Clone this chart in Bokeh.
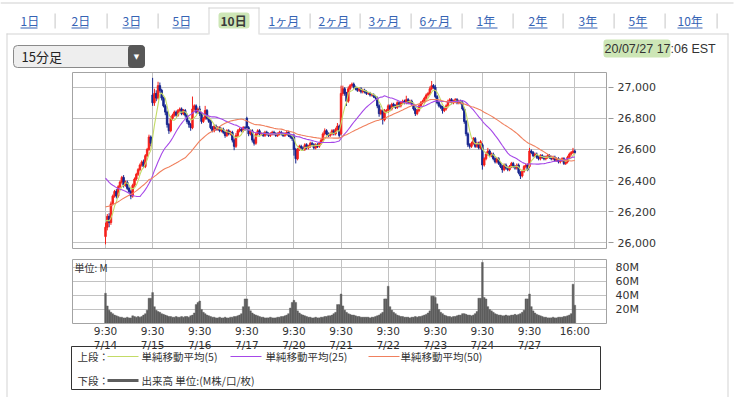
import numpy as np
from bokeh.plotting import figure
from bokeh.models import (Range1d, LinearAxis, FixedTicker, NumeralTickFormatter,
                          PrintfTickFormatter, Label, BoxAnnotation, Grid, ColumnDataSource)
from bokeh.embed import file_html
from bokeh.resources import INLINE

# ---------------- data ----------------
dates = ["7/14", "7/15", "7/16", "7/17", "7/20", "7/21", "7/22", "7/23", "7/24", "7/27"]
session_open_time = "9:30"
session_close_time = "16:00"

day_open = [26040, 26950, 26860, 26800, 26680, 26700, 26850, 27000, 26630, 26490]

close_0714 = [26100, 26170, 26130, 26250, 26300, 26330, 26300, 26360, 26390, 26420, 26370, 26390, 26350,
              26330, 26300, 26370, 26410, 26440, 26470, 26500, 26520, 26490, 26560, 26600, 26680, 26640]
close_0715 = [26900, 26960, 26930, 27010, 26980, 26930, 26880, 26840, 26760, 26720, 26800, 26820, 26840,
              26820, 26850, 26860, 26830, 26850, 26820, 26780, 26760, 26740, 26860, 26880, 26840, 26860]
close_0716 = [26830, 26780, 26800, 26850, 26800, 26780, 26740, 26720, 26750, 26730, 26740, 26720, 26730,
              26710, 26690, 26720, 26700, 26710, 26660, 26620, 26690, 26720, 26730, 26720, 26740, 26730]
close_0717 = [26740, 26700, 26720, 26660, 26640, 26700, 26720, 26700, 26700, 26690, 26710, 26700, 26690,
              26700, 26710, 26700, 26690, 26700, 26710, 26700, 26690, 26700, 26710, 26690, 26680, 26670]
close_0720 = [26600, 26540, 26600, 26620, 26610, 26600, 26630, 26610, 26620, 26640, 26630, 26610, 26630,
              26620, 26640, 26660, 26700, 26720, 26700, 26690, 26700, 26720, 26700, 26730, 26750, 26690]
close_0721 = [26960, 26990, 26960, 26910, 26990, 27010, 27020, 27000, 26990, 26980, 26990, 26970, 26980,
              26970, 26960, 26960, 26950, 26950, 26940, 26930, 26880, 26830, 26850, 26790, 26850, 26850]
close_0722 = [26880, 26860, 26890, 26880, 26870, 26900, 26880, 26900, 26910, 26900, 26920, 26900, 26910,
              26890, 26860, 26830, 26850, 26880, 26900, 26910, 26930, 26950, 26960, 26990, 27010, 27000]
close_0723 = [26940, 26900, 26880, 26870, 26850, 26860, 26880, 26910, 26920, 26900, 26910, 26920, 26900,
              26910, 26900, 26860, 26780, 26700, 26630, 26620, 26640, 26670, 26620, 26640, 26610, 26650]
close_0724 = [26500, 26540, 26570, 26590, 26560, 26570, 26540, 26520, 26540, 26510, 26490, 26470, 26500,
              26480, 26470, 26490, 26510, 26490, 26480, 26500, 26450, 26430, 26460, 26490, 26500, 26470]
close_0727 = [26590, 26580, 26560, 26570, 26550, 26540, 26560, 26550, 26540, 26550, 26560, 26550, 26540,
              26550, 26530, 26540, 26520, 26530, 26540, 26510, 26520, 26550, 26570, 26580, 26590, 26580]

# upper / lower wick beyond the candle body (points)
hi_0714 = [30, 15, 20, 15, 10, 10, 15, 10, 10, 10, 15, 10, 10, 10, 10, 10, 10, 10, 10, 10, 10, 15, 10, 10, 15, 10]
lo_0714 = [50, 20, 30, 15, 10, 10, 15, 10, 10, 10, 15, 10, 10, 10, 20, 10, 10, 10, 10, 10, 10, 10, 10, 10, 10, 20]
hi_0715 = [110, 30, 20, 25, 20, 10, 10, 10, 10, 10, 15, 10, 10, 10, 10, 10, 10, 10, 10, 10, 10, 10, 80, 10, 10, 10]
lo_0715 = [20, 20, 20, 10, 15, 15, 10, 20, 20, 20, 10, 10, 10, 10, 10, 10, 10, 10, 15, 15, 20, 20, 10, 10, 10, 10]
hi_0716 = [20, 10, 10, 30, 10, 10, 10, 10, 10, 10, 10, 10, 10, 10, 10, 10, 10, 10, 10, 10, 15, 10, 10, 10, 10, 10]
lo_0716 = [15, 15, 10, 10, 10, 10, 10, 10, 10, 10, 10, 10, 10, 10, 15, 10, 10, 10, 15, 25, 10, 10, 10, 10, 10, 10]
hi_0717 = [10, 10, 10, 10, 10, 10, 10, 10, 10, 10, 10, 10, 10, 10, 10, 10, 10, 10, 10, 10, 10, 10, 10, 10, 10, 10]
lo_0717 = [10, 15, 10, 15, 15, 10, 10, 10, 10, 10, 10, 10, 10, 10, 10, 10, 10, 10, 10, 10, 10, 10, 10, 10, 10, 15]
hi_0720 = [20, 10, 10, 10, 10, 10, 10, 10, 10, 10, 10, 10, 10, 10, 10, 10, 10, 15, 10, 10, 10, 10, 10, 10, 20, 10]
lo_0720 = [40, 30, 10, 10, 10, 10, 10, 10, 10, 10, 10, 10, 10, 10, 10, 10, 10, 10, 10, 10, 10, 10, 10, 10, 10, 15]
hi_0721 = [50, 20, 10, 10, 15, 10, 10, 10, 10, 10, 10, 10, 10, 10, 10, 10, 10, 10, 10, 10, 10, 10, 10, 10, 10, 10]
lo_0721 = [10, 15, 15, 30, 10, 10, 10, 10, 10, 10, 10, 10, 10, 10, 10, 10, 10, 10, 10, 10, 15, 20, 10, 30, 10, 10]
hi_0722 = [10, 10, 10, 10, 10, 10, 10, 10, 10, 10, 25, 10, 10, 10, 10, 10, 10, 10, 10, 10, 10, 10, 10, 15, 30, 10]
lo_0722 = [15, 10, 10, 10, 10, 10, 10, 10, 10, 10, 10, 10, 10, 10, 10, 15, 10, 10, 10, 10, 10, 10, 10, 10, 10, 10]
hi_0723 = [15, 10, 10, 10, 10, 10, 10, 10, 10, 10, 10, 10, 10, 10, 10, 10, 10, 10, 10, 10, 10, 10, 10, 10, 10, 10]
lo_0723 = [10, 10, 10, 10, 20, 10, 10, 10, 10, 10, 10, 10, 10, 10, 10, 10, 15, 15, 15, 15, 10, 10, 10, 10, 10, 10]
hi_0724 = [10, 10, 15, 20, 10, 10, 10, 10, 10, 10, 10, 10, 10, 10, 10, 10, 10, 10, 10, 10, 10, 10, 10, 10, 10, 10]
lo_0724 = [30, 10, 10, 10, 10, 10, 10, 10, 10, 10, 10, 20, 10, 10, 10, 10, 10, 10, 10, 10, 10, 20, 10, 10, 10, 10]
hi_0727 = [20, 10, 10, 10, 10, 10, 10, 10, 10, 10, 10, 10, 10, 10, 10, 10, 10, 10, 10, 10, 10, 10, 10, 10, 20, 10]
lo_0727 = [10, 10, 10, 10, 10, 10, 10, 10, 10, 10, 10, 10, 10, 10, 10, 10, 10, 10, 10, 10, 10, 10, 10, 10, 10, 10]

# volume per 15-minute bar, millions
vol_0714 = [43, 25, 19, 16, 14, 12, 11, 10, 9, 9, 8, 8, 9, 8, 8, 11, 10, 9, 10, 9, 10, 12, 14, 19, 36, 36]
vol_0715 = [44, 24, 19, 17, 16, 14, 13, 12, 11, 10, 10, 9, 9, 10, 9, 9, 10, 9, 10, 10, 9, 11, 12, 15, 27, 30]
vol_0716 = [32, 20, 16, 14, 12, 11, 10, 9, 9, 8, 8, 9, 8, 8, 9, 8, 8, 9, 9, 10, 10, 11, 12, 14, 24, 35]
vol_0717 = [35, 24, 18, 15, 13, 12, 11, 10, 9, 9, 8, 8, 8, 9, 8, 8, 8, 9, 9, 10, 10, 11, 12, 14, 22, 30]
vol_0720 = [33, 30, 18, 15, 13, 12, 11, 10, 9, 9, 8, 8, 9, 8, 8, 9, 9, 10, 10, 11, 11, 12, 14, 16, 27, 27]
vol_0721 = [42, 25, 19, 16, 14, 13, 12, 12, 11, 10, 10, 9, 9, 9, 9, 9, 8, 9, 9, 10, 11, 12, 14, 16, 35, 35]
vol_0722 = [53, 24, 19, 16, 14, 12, 11, 10, 10, 9, 9, 9, 8, 9, 9, 10, 9, 10, 10, 11, 12, 13, 15, 18, 39, 39]
vol_0723 = [37, 28, 20, 16, 14, 12, 11, 10, 10, 9, 10, 10, 11, 12, 12, 14, 14, 13, 12, 12, 11, 12, 14, 17, 36, 36]
vol_0724 = [87, 37, 35, 24, 20, 18, 16, 14, 13, 12, 12, 11, 11, 12, 11, 11, 12, 12, 13, 12, 13, 14, 16, 19, 35, 35]
vol_0727 = [42, 24, 18, 15, 13, 12, 11, 10, 9, 9, 8, 8, 8, 9, 8, 8, 9, 9, 9, 10, 10, 11, 12, 14, 56, 26]

# average close of the off-chart bars before 7/14 (read from where the averages start)
prior_levels = [26026, 26503, 26150]
prior_bars = [25, 20, 5]

ma_windows = [5, 25, 50]
ma_labels = ["単純移動平均(5)", "単純移動平均(25)", "単純移動平均(50)"]
ma_colors = ["#c3db66", "#a648e8", "#f0805e"]

price_ticks = [26000, 26200, 26400, 26600, 26800, 27000]
vol_ticks = [20, 40, 60, 80]

tabs = ["1日", "2日", "3日", "5日", "10日", "1ヶ月", "2ヶ月", "3ヶ月", "6ヶ月", "1年", "2年", "3年", "5年", "10年"]
selected_tab = "10日"
interval_label = "15分足"
timestamp = "20/07/27 17:06 EST"
upper_label = "上段："
lower_label = "下段："
volume_label = "出来高 単位:(M株/口/枚)"
unit_label = "単位: M"

# ---------------- series ----------------
closes_by_day = [close_0714, close_0715, close_0716, close_0717, close_0720,
                 close_0721, close_0722, close_0723, close_0724, close_0727]
hi_by_day = [hi_0714, hi_0715, hi_0716, hi_0717, hi_0720, hi_0721, hi_0722, hi_0723, hi_0724, hi_0727]
lo_by_day = [lo_0714, lo_0715, lo_0716, lo_0717, lo_0720, lo_0721, lo_0722, lo_0723, lo_0724, lo_0727]
vol_by_day = [vol_0714, vol_0715, vol_0716, vol_0717, vol_0720, vol_0721, vol_0722, vol_0723, vol_0724, vol_0727]

BARS = len(close_0714)
close = np.concatenate(closes_by_day).astype(float)
n = len(close)
idx = np.arange(n)
opn = np.empty(n)
opn[1:] = close[:-1]
for d, o in enumerate(day_open):
    opn[d * BARS] = o
hi = np.maximum(opn, close) + np.concatenate(hi_by_day)
lo = np.minimum(opn, close) - np.concatenate(lo_by_day)
vol = np.concatenate(vol_by_day).astype(float)
cols = np.where(close >= opn, "#f5201b", "#17268f")

seed = np.concatenate([np.full(c, v, float) for v, c in zip(prior_levels, prior_bars)])
ext = np.concatenate([seed, close])
S = len(seed)
ma = {w: np.array([ext[S + i - w + 1:S + i + 1].mean() for i in range(n)]) for w in ma_windows}

xticks = [d * BARS for d in range(len(dates))] + [n - 1]
xlabels = {t: f"{session_open_time}\n{dt}" for t, dt in zip(xticks, dates)}
xlabels[n - 1] = session_close_time

# ---------------- layout (page pixels; the frame fills the canvas) ----------------
W, H = 743, 397
FL, FR, FT, FB = 72, 606, 72, 323          # chart area: left, right, top, bottom
PRICE_BOTTOM, VOL_TOP = 248, 259
X0_PX, BAR_PX = 105.0, 1.812               # x of first bar, px per bar
P_REF, P_REF_Y, P_PX = 27000.0, 86.7, 0.1556
V0_Y, V_PX = 323.0, 0.7025


def idx_at(x):
    return (x - X0_PX) / BAR_PX


def price_at(y):
    return P_REF - (y - P_REF_Y) / P_PX


def vol_at(y):
    return (V0_Y - y) / V_PX


xr = Range1d(idx_at(0), idx_at(W))
yr = Range1d(price_at(H), price_at(0))

p = figure(width=W, height=H, output_backend="svg", toolbar_location=None, title=None,
           x_range=xr, y_range=yr, x_axis_type=None, y_axis_type=None)
p.min_border = 0
p.min_border_left = p.min_border_right = p.min_border_top = p.min_border_bottom = 0
p.extra_y_ranges = {"vol": Range1d(vol_at(H), vol_at(0)), "px": Range1d(H, 0)}
p.outline_line_color = None
p.background_fill_color = "white"
p.border_fill_color = "white"

GRID = "#c2c2c2"
xb = (idx_at(FL), idx_at(FR))
p.add_layout(Grid(dimension=0, ticker=FixedTicker(ticks=xticks), grid_line_color=GRID,
                  cross_bounds=(price_at(PRICE_BOTTOM), price_at(FT))))
p.add_layout(Grid(dimension=0, ticker=FixedTicker(ticks=xticks), grid_line_color=GRID,
                  y_range_name="vol", cross_bounds=(vol_at(FB), vol_at(VOL_TOP))))
p.add_layout(Grid(dimension=1, ticker=FixedTicker(ticks=price_ticks), grid_line_color=GRID,
                  cross_bounds=xb))
p.add_layout(Grid(dimension=1, ticker=FixedTicker(ticks=vol_ticks), grid_line_color=GRID,
                  y_range_name="vol", cross_bounds=xb))


def style_axis(ax, tick_out, standoff, size="11px"):
    ax.axis_line_color = None
    ax.major_tick_line_color = "#999999"
    ax.major_tick_out = tick_out
    ax.major_tick_in = 0
    ax.minor_tick_line_color = None
    ax.major_label_text_font = "DejaVu Sans"
    ax.major_label_text_font_size = size
    ax.major_label_text_color = "#333333"
    ax.major_label_standoff = standoff


pax = LinearAxis(ticker=FixedTicker(ticks=price_ticks), formatter=NumeralTickFormatter(format="0,0"),
                 fixed_location=idx_at(FR + 2))
style_axis(pax, 5, 4)
p.add_layout(pax, "right")
vax = LinearAxis(y_range_name="vol", ticker=FixedTicker(ticks=vol_ticks),
                 formatter=PrintfTickFormatter(format="%dM"), fixed_location=idx_at(FR))
style_axis(vax, 0, 9)
p.add_layout(vax, "right")
xax = LinearAxis(ticker=FixedTicker(ticks=xticks), major_label_overrides=xlabels,
                 y_range_name="px", fixed_location=FB)
style_axis(xax, 0, 1, "10.5px")
p.add_layout(xax, "below")

src = ColumnDataSource(dict(x=idx, h=hi, l=lo, top=np.maximum(opn, close), bot=np.minimum(opn, close),
                            col=cols, v=vol))
p.vbar(x="x", top="v", bottom=0, width=1.0, y_range_name="vol", fill_color="#5e5e5e",
       line_color="#5e5e5e", line_width=0.4, source=src)
p.segment(x0="x", y0="h", x1="x", y1="l", line_color="col", line_width=1, source=src)
p.vbar(x="x", top="top", bottom="bot", width=0.85, fill_color="col", line_color="col",
       line_width=0.9, source=src)
for w, c in zip(ma_windows, ma_colors):
    p.line(idx, ma[w], line_color=c, line_width=1.1)


# ---------------- page chrome (canvas units = page pixels) ----------------
def box(l, t, r, b, fill_color=None, line_color=None, **kw):
    p.add_layout(BoxAnnotation(left=l, right=r, top=t, bottom=b,
                               left_units="canvas", right_units="canvas",
                               top_units="canvas", bottom_units="canvas",
                               fill_color=fill_color, fill_alpha=1.0 if fill_color else 0.0,
                               line_color=line_color, line_alpha=1.0, **kw))


def text(x, y, s, size="12px", font="Noto Sans CJK JP", color="#333333", align="left", **kw):
    p.add_layout(Label(x=x, y=y, x_units="canvas", y_units="canvas", text=s,
                       text_font=font, text_font_size=size, text_color=color,
                       text_align=align, text_baseline="middle", **kw))


LINE = "#d4d4d4"
# container edges
box(6, 33, 208, 34, fill_color=LINE)
box(259, 33, 728, 34, fill_color=LINE)
box(6, 33, 7, 397, fill_color=LINE)
box(727, 33, 728, 397, fill_color=LINE)
box(0, 2, 733, 3, fill_color="#cfcfcf")

# tabs
tab_left = [20, 71, 122, 172, 220, 268, 318, 368, 419, 476, 528, 578, 628, 677]
tab_width = [17, 17, 17, 17, 27, 32, 32, 32, 32, 21, 19, 19, 19, 25]
sep_x = [54, 106, 157, 309, 359, 410, 461, 512, 562, 613, 664, 716]
for sx in sep_x:
    box(sx, 13, sx + 1.2, 28, fill_color="#cfcfcf")
box(208, 7, 209, 34, fill_color=LINE)
box(258, 7, 259, 34, fill_color=LINE)
box(208, 7, 259, 8, fill_color=LINE)
for t, lx, tw in zip(tabs, tab_left, tab_width):
    if t == selected_tab:
        box(lx - 2, 12, lx + tw + 2, 28, fill_color="#cde6b6", border_radius=3)
        text(lx, 20, t, size="12px", color="#3a3a3a", text_font_style="bold")
    else:
        text(lx, 20, t, size="12px", color="#3563b4")
        box(lx, 27, lx + tw, 28, fill_color="#3563b4")

# interval dropdown
box(13, 45, 144, 67, fill_color="#eeeeee", line_color="#8a8a8a", border_radius=4)
box(128, 45, 144, 67, fill_color="#575757", line_color="#575757", border_radius=3)
text(136, 56, "▼", size="7px", font="DejaVu Sans", color="white", align="center")
text(21, 56, interval_label, size="13px", color="#222222")

# timestamp
box(603, 39, 670, 57, fill_color="#cde6b6", border_radius=3)
text(604, 48, timestamp, size="12.5px", font="Liberation Sans", color="#333333")

# panel frames
box(FL, FT, FR, PRICE_BOTTOM, line_color="#a3a3a3")
box(FL, VOL_TOP, FR, FB, line_color="#a3a3a3")
text(74, 267, unit_label, size="10px", color="#333333")

# legend
box(71, 346, 600, 389, line_color="#333333")
text(77, 356, upper_label, size="10.5px")
leg_line_x = [107, 230, 368]
leg_text_x = [141, 265, 400]
for lx, tx, lab, c in zip(leg_line_x, leg_text_x, ma_labels, ma_colors):
    box(lx, 355.5, lx + 31, 356.5, fill_color=c)
    text(tx, 356, lab, size="10.5px")
text(77, 380, lower_label, size="10.5px")
box(107, 378.5, 138, 381.5, fill_color="#5e5e5e")
text(141, 380, volume_label, size="10.5px")

open("out.html", "w").write(file_html(p, INLINE))
